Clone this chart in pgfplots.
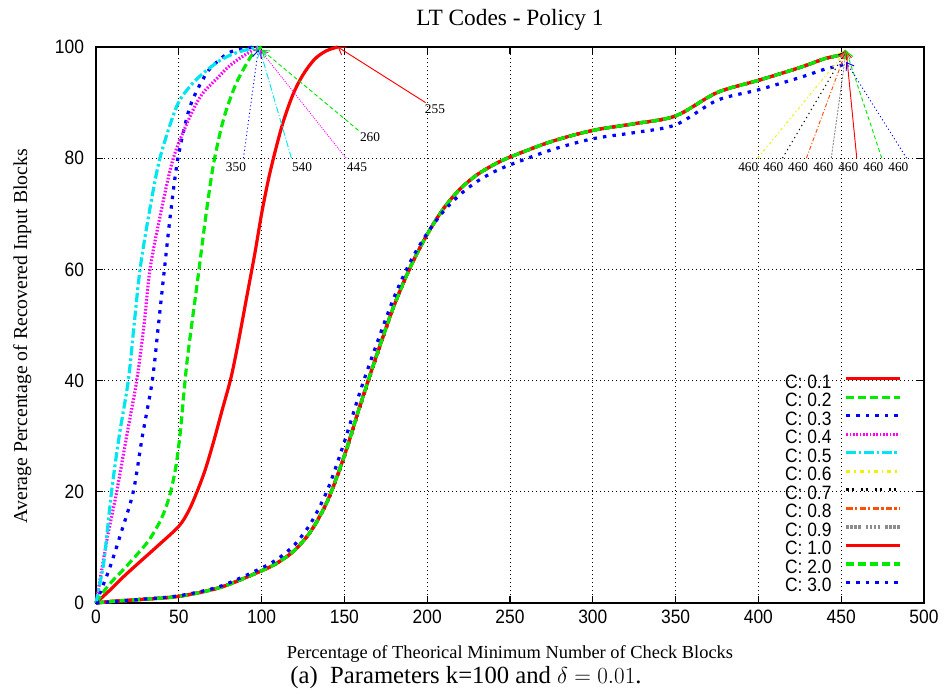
\documentclass[border=0pt]{standalone}
\usepackage{pgfplots}
\pgfplotsset{compat=1.18}
\usepackage{fontspec}
\setmainfont{Liberation Serif}
\newfontfamily\ticksans[FakeStretch=0.9]{Liberation Sans}
\usetikzlibrary{arrows.meta}
\definecolor{cred}{RGB}{255,0,0}
\definecolor{cgreen}{RGB}{0,235,0}
\definecolor{cblue}{RGB}{0,0,255}
\definecolor{cmag}{RGB}{255,0,255}
\definecolor{ccyan}{RGB}{0,230,240}
\definecolor{cyel}{RGB}{240,240,0}
\definecolor{corange}{RGB}{255,80,10}
\definecolor{cgrey}{RGB}{140,140,140}
\tikzset{
 s1/.style={cred, line width=2.4pt, solid},
 s2/.style={cgreen, line width=2.4pt, dash pattern=on 6pt off 3pt},
 s3/.style={cblue, line width=2.4pt, dash pattern=on 2.6pt off 4.6pt},
 s4/.style={cmag, line width=2.4pt, dash pattern=on 1.2pt off 1.3pt},
 s5/.style={ccyan, line width=2.4pt, dash pattern=on 7pt off 2.2pt on 2pt off 2.2pt},
 s6/.style={cyel, line width=2.4pt, dash pattern=on 3pt off 3pt on 1.2pt off 3pt},
 s7/.style={black, line width=2.4pt, dash pattern=on 1.8pt off 2pt on 1.8pt off 5pt},
 s8/.style={corange, line width=2.4pt, dash pattern=on 5pt off 1.6pt on 1.6pt off 1.6pt},
 s9/.style={cgrey, line width=2.4pt, dash pattern=on 1.6pt off 1.4pt on 1.6pt off 1.4pt on 1.6pt off 1.4pt on 1.6pt off 4pt},
 arr/.style={line width=0.7pt, -{Straight Barb[length=5pt,width=7pt]}},
 t1/.style={arr, cred, solid},
 t2/.style={arr, cgreen, dash pattern=on 3pt off 2pt},
 t3/.style={arr, cblue, dash pattern=on 0.8pt off 2pt},
 t4/.style={arr, cmag, dash pattern=on 0.7pt off 1pt},
 t5/.style={arr, ccyan, dash pattern=on 5pt off 1.5pt on 0.8pt off 1.5pt},
 t6/.style={arr, cyel, dash pattern=on 2pt off 2pt on 0.8pt off 2pt},
 t7/.style={arr, black, dash pattern=on 1pt off 2.5pt},
 t8/.style={arr, corange, dash pattern=on 3pt off 1.5pt on 0.8pt off 1.5pt},
 t9/.style={arr, cgrey, dash pattern=on 1.5pt off 1pt},
 lab/.style={font=\fontsize{10}{12}\selectfont, inner sep=0pt},
}
\begin{document}
\begin{tikzpicture}
\path[use as bounding box] (-72pt,-67.5pt) rectangle (636pt,452.25pt);
\begin{axis}[
  at={(0pt,0pt)}, anchor=south west,
  scale only axis, width=621pt, height=417pt,
  xmin=0, xmax=500, ymin=0, ymax=100,
  xtick={0,50,...,500}, ytick={0,20,...,100},
  clip=false,
  axis line style={line width=1.2pt},
  tick style={black, line width=0.8pt},
  major tick length=5pt,
  grid=major,
  major grid style={black, line width=0.6pt, dash pattern=on 0.6pt off 2.4pt},
  /pgf/number format/assume math mode=true,
  ticklabel style={font=\ticksans\fontsize{14.5}{15}\selectfont},
  xticklabel style={yshift=-2pt},
  yticklabel style={xshift=-5.5pt},
  title={LT Codes - Policy 1},
  title style={at={(axis description cs:0.5,1)}, anchor=base, yshift=9.75pt, font=\fontsize{17.5}{20}\selectfont, inner sep=0pt},
  xlabel={Percentage of Theorical Minimum Number of Check Blocks},
  xlabel style={at={(axis description cs:0.5,0)}, anchor=base, yshift=-41.5pt, font=\fontsize{13.8}{16}\selectfont, inner sep=0pt},
  ylabel={Average Percentage of Recovered Input Blocks},
  ylabel style={at={(axis description cs:-0.089,0.48)}, anchor=center, font=\fontsize{14.8}{17}\selectfont, inner sep=0pt},
  legend plot pos=right,
  legend cell align=left,
  legend image code/.code={\draw[#1] (0pt,3.6pt) -- (40pt,3.6pt);},
  legend style={at={(axis cs:486.5,41.2)}, anchor=north east, draw=none, fill=none,
    font=\ticksans\fontsize{14.5}{15}\selectfont, inner sep=0pt, row sep=0pt, column sep=10pt,
    nodes={inner sep=0pt, text height=10.4pt, text depth=3.5pt}},
]
% C: 0.1
\addplot[s1, smooth] coordinates {(0,0) (8,2.2) (16.5,4.7) (25,7) (37,10.2) (50,13.8) (56,16.6) (61,20) (66,24) (71,29) (76,34.5) (81.5,40.5) (86,47) (91,55) (96,63) (100,70) (104,76) (108,81) (113,86.5) (119,91.5) (125,95) (132,97.8) (139,99.3) (146,100)};
\addlegendentry{C: 0.1}
% C: 0.2
\addplot[s2, smooth] coordinates {(0,0) (5,2.2) (10,4) (16.5,6) (25,8.8) (32,11.3) (38,14.3) (42,17) (45.5,20.5) (48.5,25) (51,31) (53,37.5) (55,43.5) (58,50.5) (62,59.5) (66.5,70) (71,79) (77,87) (84,93) (90,96.5) (95,98.9) (100,100)};
\addlegendentry{C: 0.2}
% C: 0.3
\addplot[s3, smooth] coordinates {(0,0) (4,3) (8.5,6.5) (15,12.5) (22.5,20) (28,30) (34,40) (37.7,50) (41.3,60) (45,70) (49.5,80) (56.8,89.3) (66.8,95.3) (75,97.8) (82,99.2) (95,100)};
\addlegendentry{C: 0.3}
% C: 0.4
\addplot[s4, smooth] coordinates {(0,0) (2.4,4.1) (7,12) (12.5,20) (18.5,30) (24.6,40) (29,50) (32.6,60) (39,70) (46.7,80) (56.8,87.5) (64,91.5) (72.9,94.3) (81,96.7) (89,98.4) (98,100)};
\addlegendentry{C: 0.4}
% C: 0.5
\addplot[s5, smooth] coordinates {(0,0) (2,3) (5,8) (9.4,20) (14,30) (19.5,40) (23,50) (26.6,60) (32,70) (38.6,80) (48.7,89.3) (57,93) (64.8,95.3) (75,97.6) (85,99) (98,100)};
\addlegendentry{C: 0.5}
% C: 0.6 .. 1.0, 2.0
\addplot[s6, smooth] coordinates {(0,0) (10,0.3) (25,0.6) (50,1.2) (75,2.8) (100,5.8) (110,7.3) (120,9.5) (130,13) (140,18.5) (150,26.5) (160,36) (170,45) (180,53.5) (190,60.5) (200,66.3) (210,71) (220,74.5) (230,77) (240,78.8) (250,80.2) (275,83) (300,85) (325,86.2) (350,87.6) (375,91.8) (400,94) (425,96.3) (440,97.9) (450,98.6) (453,99.3)};
\addlegendentry{C: 0.6}
\addplot[s7, smooth] coordinates {(0,0) (10,0.3) (25,0.6) (50,1.2) (75,2.8) (100,5.8) (110,7.3) (120,9.5) (130,13) (140,18.4) (150,26.3) (160,35.8) (170,44.8) (180,53.4) (190,60.5) (200,66.3) (210,71) (220,74.5) (230,77) (240,78.8) (250,80.2) (275,83) (300,85) (325,86.2) (350,87.6) (375,91.8) (400,94) (425,96.3) (440,97.9) (450,98.6) (453,99.3)};
\addlegendentry{C: 0.7}
\addplot[s8, smooth] coordinates {(0,0) (10,0.3) (25,0.6) (50,1.2) (75,2.8) (100,5.8) (110,7.3) (120,9.5) (130,13.1) (140,18.6) (150,26.6) (160,36.1) (170,45.1) (180,53.6) (190,60.6) (200,66.3) (210,71) (220,74.5) (230,77) (240,78.8) (250,80.2) (275,83) (300,85) (325,86.2) (350,87.6) (375,91.8) (400,94) (425,96.3) (440,97.9) (450,98.6) (453,99.3)};
\addlegendentry{C: 0.8}
\addplot[s9, smooth] coordinates {(0,0) (10,0.3) (25,0.6) (50,1.2) (75,2.8) (100,5.8) (110,7.3) (120,9.5) (130,13) (140,18.5) (150,26.5) (160,36) (170,45) (180,53.5) (190,60.5) (200,66.3) (210,71) (220,74.5) (230,77) (240,78.8) (250,80.2) (275,83) (300,85) (325,86.2) (350,87.6) (375,91.8) (400,94) (425,96.3) (440,97.9) (450,98.6) (453,99.3)};
\addlegendentry{C: 0.9}
\addplot[s1, smooth] coordinates {(0,0) (10,0.3) (25,0.6) (50,1.2) (75,2.8) (100,5.8) (110,7.3) (120,9.5) (130,13) (140,18.5) (150,26.5) (160,36) (170,45) (180,53.5) (190,60.5) (200,66.3) (210,71) (220,74.5) (230,77) (240,78.8) (250,80.2) (275,83) (300,85) (325,86.2) (350,87.6) (375,91.8) (400,94) (425,96.3) (440,97.9) (450,98.6) (453,99.3)};
\addlegendentry{C: 1.0}
\addplot[s2, smooth] coordinates {(0,0) (10,0.3) (25,0.6) (50,1.2) (75,2.8) (100,5.8) (110,7.3) (120,9.5) (130,13) (140,18.5) (150,26.5) (160,36) (170,45) (180,53.5) (190,60.5) (200,66.3) (210,71) (220,74.5) (230,77) (240,78.8) (250,80.2) (275,83) (300,85) (325,86.2) (350,87.6) (375,91.8) (400,94) (425,96.3) (440,97.9) (450,98.6) (453,99.3)};
\addlegendentry{C: 2.0}
\addplot[s3, smooth] coordinates {(0,0) (25,0.6) (50,1.3) (75,3) (100,6.3) (110,8) (120,10.5) (130,14.5) (140,20.5) (150,29) (160,38.5) (170,47) (180,55) (190,61.5) (200,66.5) (210,70.5) (220,73.5) (230,75.8) (240,77.5) (250,78.8) (275,81.5) (300,83.5) (325,84.6) (350,86) (375,90.4) (400,92.3) (425,94.5) (440,96) (450,96.7) (452,97)};
\addlegendentry{C: 3.0}
% annotation arrows (left group)
\addplot[t3, forget plot] coordinates {(89,80) (98,99.5)};
\addplot[t5, forget plot] coordinates {(118,80) (99,99.5)};
\addplot[t4, forget plot] coordinates {(151,80) (99,99.5)};
\addplot[t2, forget plot] coordinates {(158.5,85) (100,99.5)};
\addplot[t1, forget plot] coordinates {(199,90) (146,100)};
% annotation arrows (right group)
\addplot[t6, forget plot] coordinates {(399.5,80) (453,99.3)};
\addplot[t7, forget plot] coordinates {(414.5,80) (453,99.3)};
\addplot[t8, forget plot] coordinates {(429,80) (453,99.3)};
\addplot[t9, forget plot] coordinates {(444,80) (453,99.3)};
\addplot[t1, forget plot] coordinates {(459.4,80) (453,99.3)};
\addplot[t2, forget plot] coordinates {(474.5,80) (453,99.3)};
\addplot[t3, forget plot] coordinates {(489.5,80) (453,97.3)};
\node[lab] at (axis cs:84.5,78.4) {350};
\node[lab] at (axis cs:124.4,78.4) {540};
\node[lab] at (axis cs:157.6,78.4) {445};
\node[lab] at (axis cs:165.5,83.8) {260};
\node[lab] at (axis cs:204.7,88.8) {255};
\node[lab] at (axis cs:393.9,78.4) {460};
\node[lab] at (axis cs:409,78.4) {460};
\node[lab] at (axis cs:424,78.4) {460};
\node[lab] at (axis cs:439.2,78.4) {460};
\node[lab] at (axis cs:454.3,78.4) {460};
\node[lab] at (axis cs:469.4,78.4) {460};
\node[lab] at (axis cs:484.5,78.4) {460};
\end{axis}
\node[anchor=base, inner sep=0pt, font=\fontsize{18.5}{21}\selectfont] at (277.5pt,-60pt) {(a)\ \ Parameters k=100 and $\delta = 0.01$.};
\end{tikzpicture}
\end{document}
